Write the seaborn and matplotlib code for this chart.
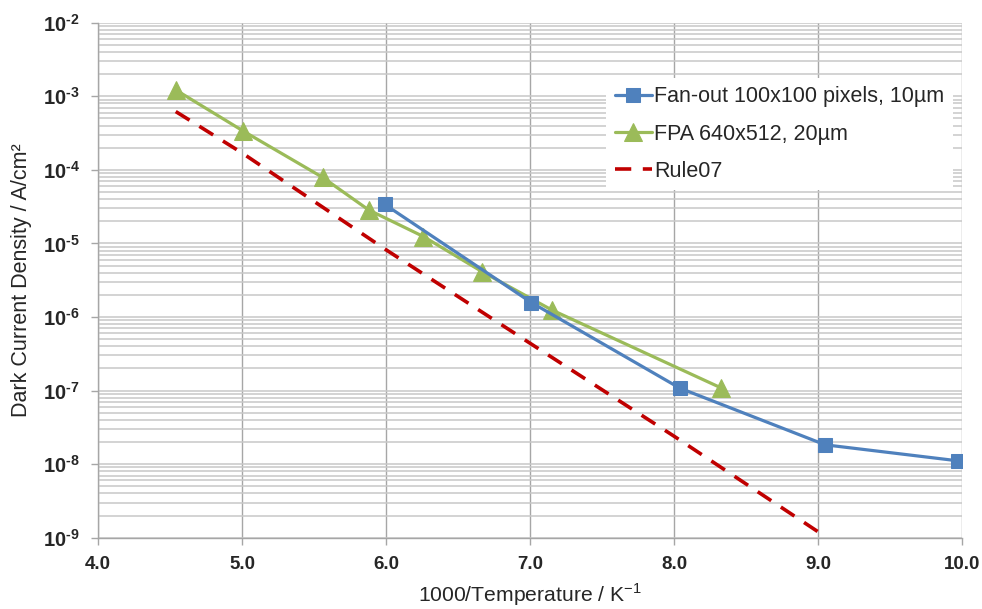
import numpy as np
import pandas as pd
import matplotlib
matplotlib.use("Agg")
import matplotlib.pyplot as plt
import matplotlib.ticker as mticker
import seaborn as sns

# data
fan_x = [5.99, 7.01, 8.04, 9.05, 9.97]
fan_y = [3.4e-5, 1.57e-6, 1.08e-7, 1.83e-8, 1.11e-8]

fpa_x = [4.54, 5.005, 5.56, 5.88, 6.26, 6.67, 7.15, 8.33]
fpa_y = [1.22e-3, 3.4e-4, 7.9e-5, 2.85e-5, 1.24e-5, 4.1e-6, 1.25e-6, 1.08e-7]

rule_x = [4.54, 5.0, 6.0, 7.0, 8.0, 9.04]
rule_y = [6.2e-4, 1.7e-4, 8.2e-6, 4.4e-7, 2.4e-8, 1.07e-9]

labels = ["Fan-out 100x100 pixels, 10µm", "FPA 640x512, 20µm", "Rule07"]
x_ticks = [4.0, 5.0, 6.0, 7.0, 8.0, 9.0, 10.0]
y_exps = [-9, -8, -7, -6, -5, -4, -3, -2]

sns.set_theme(style="white")
plt.rcParams["font.family"] = ["Liberation Sans", "DejaVu Sans"]
plt.rcParams["mathtext.fontset"] = "custom"
plt.rcParams["mathtext.rm"] = "Liberation Sans"
plt.rcParams["mathtext.bf"] = "Liberation Sans:bold"

fig = plt.figure(figsize=(9.82, 6.09), dpi=100)
ax = fig.add_axes([0.0998, 0.1171, 0.8798, 0.8456])

fan = pd.DataFrame({"x": fan_x, "y": fan_y})
fpa = pd.DataFrame({"x": fpa_x, "y": fpa_y})
rule = pd.DataFrame({"x": rule_x, "y": rule_y})

sns.lineplot(data=fan, x="x", y="y", ax=ax, color="#4F81BD", lw=2.3,
             marker="s", markersize=10, markeredgecolor="#4F81BD", label=labels[0], zorder=4)
sns.lineplot(data=fpa, x="x", y="y", ax=ax, color="#9BBB59", lw=2.3,
             marker="^", markersize=12.5, markeredgecolor="#9BBB59", label=labels[1], zorder=3)
sns.lineplot(data=rule, x="x", y="y", ax=ax, color="#C00000", lw=2.6,
             label=labels[2], zorder=2)
ax.lines[-1].set_dashes((4.5, 3.2))

ax.set_yscale("log")
ax.set_xlim(4.0, 10.0)
ax.set_ylim(1e-9, 1e-2)

ax.set_xticks(x_ticks)
ax.set_xticklabels([f"{v:.1f}" for v in x_ticks], fontsize=13.5, fontweight="bold")
ax.set_yticks([10.0 ** e for e in y_exps])
ax.set_yticklabels([r"$\mathbf{10^{‐%d}}$" % abs(e) for e in y_exps], fontsize=14.5)
ax.yaxis.set_minor_locator(mticker.LogLocator(base=10, subs=np.arange(2, 10), numticks=100))
ax.yaxis.set_minor_formatter(mticker.NullFormatter())

ax.grid(True, which="major", axis="x", color="#a6a6a6", lw=1.0)
ax.grid(True, which="both", axis="y", color="#c8c8c8", lw=1.1)
ax.tick_params(axis="both", which="major", direction="out", length=5, width=1,
               color="#a6a6a6", pad=8, bottom=True, left=True)
ax.tick_params(axis="y", which="minor", length=0)

for s in ["top", "right"]:
    ax.spines[s].set_visible(False)
for s in ["left", "bottom"]:
    ax.spines[s].set_color("#a6a6a6")
    ax.spines[s].set_linewidth(1.0)

ax.set_xlabel(r"1000/Temperature / K$^{\mathrm{-1}}$", fontsize=15.2, labelpad=6)
ax.set_ylabel("Dark Current Density / A/cm²", fontsize=15.5, labelpad=8)

leg = ax.legend(loc="upper left", bbox_to_anchor=(0.588, 0.893), fontsize=15.5,
                frameon=True, fancybox=False, framealpha=1.0, edgecolor="white",
                handlelength=1.75, handletextpad=0.1, labelspacing=0.75, borderpad=0.4,
                borderaxespad=0.0)
leg.get_frame().set_linewidth(0)

fig.savefig("out.png", dpi=100)
